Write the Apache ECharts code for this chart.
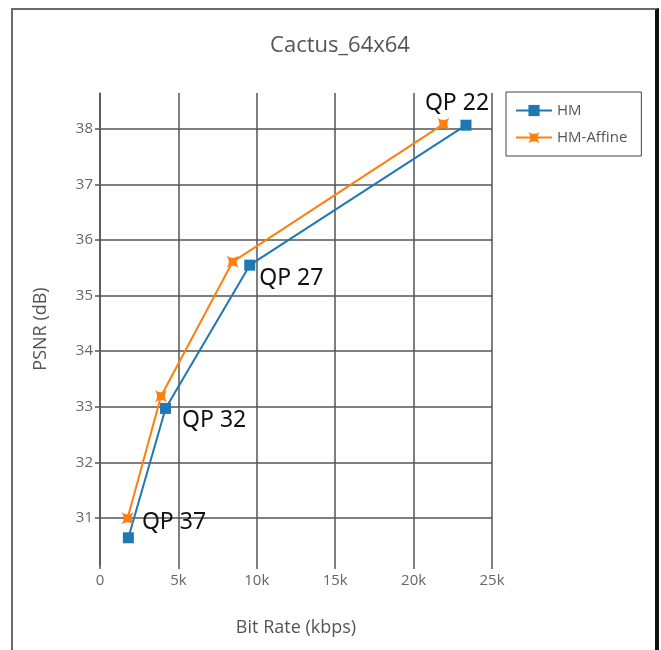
<!DOCTYPE html>
<html>
<head>
<meta charset="utf-8">
<script src="https://cdn.jsdelivr.net/npm/echarts@6/dist/echarts.min.js"></script>
<style>
  html, body { margin: 0; padding: 0; background: #fff; }
  #chart { position: absolute; left: 0; top: 0; width: 661px; height: 650px; }
  #frame { position: absolute; left: 11px; top: 8px; width: 642px; height: 660px;
           border-left: 2px solid #6b6b6b; border-top: 2px solid #6b6b6b; border-right: 4px solid #111;
           pointer-events: none; }
</style>
</head>
<body>
<div id="chart"></div>
<div id="frame"></div>
<script>
const titleText = 'Cactus_64x64';
const seriesNames = ['HM', 'HM-Affine'];
const hmRate = [23340, 9550, 4180, 1810];
const hmPsnr = [38.07, 35.55, 32.97, 30.64];
const affineRate = [21900, 8460, 3890, 1760];
const affinePsnr = [38.09, 35.61, 33.19, 30.99];
const qpLabels = ['QP 22', 'QP 27', 'QP 32', 'QP 37'];
const xTicks = [0, 5000, 10000, 15000, 20000, 25000];
const yTicks = [31, 32, 33, 34, 35, 36, 37, 38];

const labelStyles = [
  { position: 'top', offset: [-9, 0] },
  { position: 'right', offset: [-1, 13] },
  { position: 'right', offset: [6, 12] },
  { position: 'right', offset: [3, -15] }
];

const fontFam = '"Open Sans", "Noto Sans", sans-serif';
const starPath = 'path://M0,0 Q5,3.5 10,0 Q6.5,5 10,10 Q5,6.5 0,10 Q3.5,5 0,0 Z';

const hmData = hmRate.map((r, i) => ({
  value: [r, hmPsnr[i]],
  label: {
    show: true,
    formatter: qpLabels[i],
    position: labelStyles[i].position,
    offset: labelStyles[i].offset,
    color: '#111',
    fontSize: 23,
    fontFamily: '"Noto Sans", "Open Sans", sans-serif'
  }
}));
const affineData = affineRate.map((r, i) => [r, affinePsnr[i]]);

const chart = echarts.init(document.getElementById('chart'), null, { renderer: 'canvas' });
chart.setOption({
  animation: false,
  backgroundColor: '#fff',
  title: {
    text: titleText,
    left: 335, top: 30, textAlign: 'center',
    textStyle: { color: '#555', fontSize: 22, fontWeight: 'normal', fontFamily: fontFam }
  },
  legend: {
    orient: 'vertical',
    left: 506, top: 92,
    padding: [11, 14, 11, 9],
    itemGap: 12,
    itemWidth: 36, itemHeight: 14,
    borderColor: '#444', borderWidth: 1,
    textStyle: { color: '#555', fontSize: 15, fontFamily: fontFam },
    data: seriesNames
  },
  grid: { left: 100, right: 169, top: 93, bottom: 85, containLabel: false },
  xAxis: {
    type: 'value',
    min: 0, max: 25000, interval: 5000,
    name: 'Bit Rate (kbps)',
    nameLocation: 'middle', nameGap: 54,
    nameTextStyle: { color: '#555', fontSize: 18, fontFamily: fontFam },
    axisLine: { show: false },
    axisTick: { show: true, length: 4, lineStyle: { color: '#555', width: 1.5 } },
    axisLabel: {
      color: '#666', fontSize: 15, fontFamily: fontFam, margin: 8,
      customValues: xTicks,
      formatter: v => v === 0 ? '0' : (v / 1000) + 'k'
    },
    splitLine: { show: true, lineStyle: { color: '#555', width: 1.5 } }
  },
  yAxis: {
    type: 'value',
    min: 30.15, max: 38.65,
    name: 'PSNR (dB)',
    nameLocation: 'middle', nameGap: 50,
    nameTextStyle: { color: '#555', fontSize: 18, fontFamily: fontFam },
    axisLine: { show: true, lineStyle: { color: '#555', width: 1.5 } },
    axisTick: { show: true, length: 5, customValues: yTicks, lineStyle: { color: '#555', width: 1.5 } },
    axisLabel: { color: '#666', fontSize: 15, fontFamily: fontFam, margin: 7, customValues: yTicks },
    splitLine: { show: true, lineStyle: { color: '#555', width: 1.5 } }
  },
  series: [
    {
      name: seriesNames[0],
      type: 'line',
      data: hmData,
      color: '#1f77b4',
      symbol: 'rect', symbolSize: 11,
      lineStyle: { width: 2, color: '#1f77b4' },
      itemStyle: { color: '#1f77b4' },
      z: 3
    },
    {
      name: seriesNames[1],
      type: 'line',
      data: affineData,
      color: '#ff7f0e',
      symbol: starPath, symbolSize: 12,
      lineStyle: { width: 2, color: '#ff7f0e' },
      itemStyle: { color: '#ff7f0e' },
      z: 4
    }
  ]
});
</script>
</body>
</html>
